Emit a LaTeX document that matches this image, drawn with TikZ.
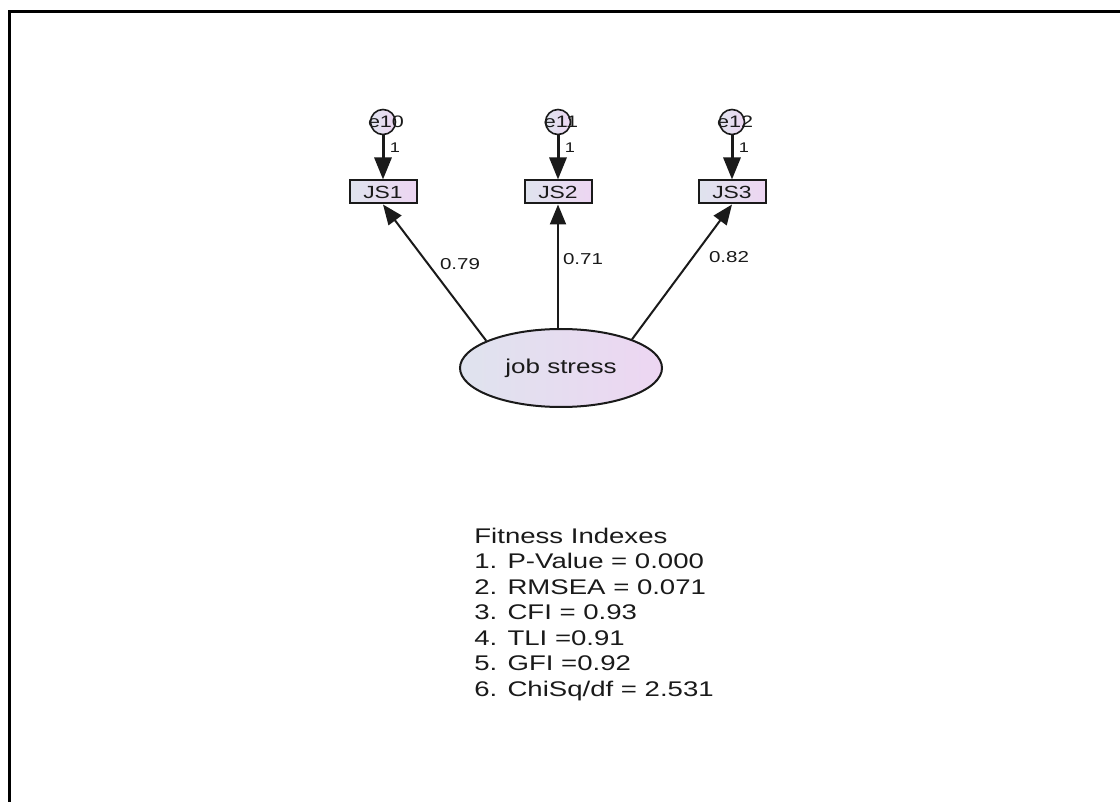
\documentclass[tikz,border=0pt]{standalone}
\usepackage{fontspec}
\setmainfont{Liberation Sans}[FakeStretch=1.3]
\usetikzlibrary{arrows.meta,shapes.geometric}
\definecolor{ink}{HTML}{1A1A1A}
\definecolor{gl}{HTML}{DFE3EE}
\definecolor{gr}{HTML}{EDD6F2}
\begin{document}
\begin{tikzpicture}[x=0.5pt,y=-0.5pt,
  obs/.style={draw=ink, line width=1pt, rectangle, minimum width=33.5pt, minimum height=11.5pt, inner sep=0pt, left color=gl, right color=gr, font=\fontsize{8.8}{10}\selectfont, text=ink},
  err/.style={draw=ink, line width=0.8pt, circle, minimum size=12.5pt, inner sep=0pt, left color=gl, right color=gr},
  errlab/.style={font=\fontsize{8.3}{10}\selectfont, text=ink, inner sep=0pt},
  lat/.style={draw=ink, line width=1pt, ellipse, minimum width=101pt, minimum height=39pt, inner sep=0pt, left color=gl, right color=gr, font=\fontsize{10}{12}\selectfont, text=ink},
  fixarr/.style={line width=1.5pt, draw=ink, -{Triangle[length=11pt,width=8.5pt]}},
  patharr/.style={line width=1pt, draw=ink, -{Triangle[length=10pt,width=8pt]}},
  coef/.style={font=\fontsize{7.9}{9}\selectfont, text=ink, inner sep=0pt},
  one/.style={font=\fontsize{7}{8}\selectfont, text=ink, inner sep=0pt},
  fit/.style={font=\fontsize{10.6}{12}\selectfont, text=ink, inner sep=0pt, anchor=base west},
]
\useasboundingbox (0,0) rectangle (1120,802);
\clip (0,0) rectangle (1120,802);
\fill[white] (0,0) rectangle (1120,802);
\draw[line width=1.5pt] (9,830) -- (9,12) -- (1140,12);

% error terms
\node[err, label={[errlab, xshift=1.5pt]center:e10}] (e10) at (383,122) {};
\node[err, label={[errlab, xshift=1.5pt]center:e11}] (e11) at (558,122) {};
\node[err, label={[errlab, xshift=1.5pt]center:e12}] (e12) at (732,122) {};

% observed variables
\node[obs] (JS1) at (383,192) {JS1};
\node[obs] (JS2) at (558,192) {JS2};
\node[obs] (JS3) at (732,192) {JS3};

% latent
\node[lat] (stress) at (561,368) {job stress};

% error paths
\draw[fixarr] (e10) -- (JS1);
\draw[fixarr] (e11) -- (JS2);
\draw[fixarr] (e12) -- (JS3);
\node[one] (o1) at (395,148) {1};
\node[one] (o2) at (570,148) {1};
\node[one] (o3) at (744,148) {1};

% loadings
\draw[patharr] (stress.160) -- (JS1.south);
\draw[patharr] (stress.north -| JS2.south) -- (JS2.south);
\draw[patharr] (stress.22) -- (JS3.south);
\node[coef] (c1) at (460,264) {0.79};
\node[coef] (c2) at (583,259) {0.71};
\node[coef] (c3) at (729,257) {0.82};

% fit indexes
\node[fit] (f0) at (474,543) {Fitness Indexes};
\node[fit] (f1) at (474,568.5) {1. P-Value = 0.000};
\node[fit] (f2) at (474,594) {2. RMSEA = 0.071};
\node[fit] (f3) at (474,619.5) {3. CFI = 0.93};
\node[fit] (f4) at (474,645) {4. TLI =0.91};
\node[fit] (f5) at (474,670.5) {5. GFI =0.92};
\node[fit] (f6) at (474,696) {6. ChiSq/df = 2.531};
\end{tikzpicture}
\end{document}
